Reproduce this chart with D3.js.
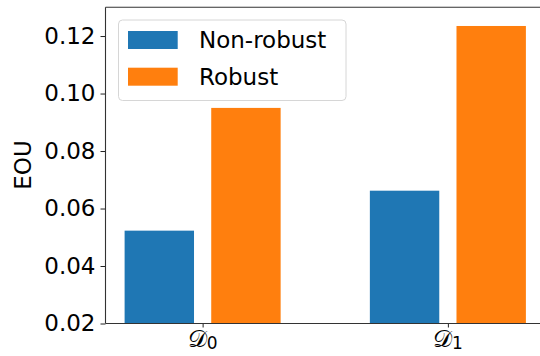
<!DOCTYPE html>
<html>
<head>
<meta charset="utf-8">
<script src="https://cdn.jsdelivr.net/npm/d3@7"></script>
<style>
  html, body { margin: 0; padding: 0; background: #fff; }
  svg { display: block; font-family: "DejaVu Sans", sans-serif; }
</style>
</head>
<body>
<svg id="chart" width="540" height="356"></svg>
<script>
// Datasets on the x axis
const categories = ["0", "1"];
// Series names and values (EOU)
const seriesNames = ["Non-robust", "Robust"];
const nonRobust = [0.0523, 0.0662];
const robust = [0.0950, 0.1235];
const seriesValues = [nonRobust, robust];
const seriesColors = ["#1f77b4", "#ff7f0e"];
// Y tick labels
const yTicks = [0.02, 0.04, 0.06, 0.08, 0.10, 0.12];

const svg = d3.select("#chart");
const plot = { left: 105.5, right: 545, top: 7.3, bottom: 323.5 };

const x = d3.scaleLinear().domain([-0.396, 1.396]).range([plot.left, plot.right]);
const y = d3.scaleLinear().domain([0.02, 0.13]).range([plot.bottom, plot.top]);

const barWidth = 0.283;
const barOffset = [-0.1766, 0.1766];

// Bars
seriesValues.forEach((vals, s) => {
  svg.append("g").selectAll("rect")
    .data(vals)
    .join("rect")
    .attr("x", (d, i) => x(i + barOffset[s] - barWidth / 2))
    .attr("width", x(barWidth) - x(0))
    .attr("y", d => y(d))
    .attr("height", d => y(0.02) - y(d))
    .attr("fill", seriesColors[s]);
});

// Y axis
const yAxis = svg.append("g")
  .attr("transform", `translate(${plot.left},0)`)
  .call(d3.axisLeft(y).tickValues(yTicks).tickFormat(d3.format(".2f")).tickSize(5).tickPadding(5));
yAxis.select(".domain").remove();
yAxis.selectAll(".tick line").attr("stroke", "#222").attr("stroke-width", 1);
yAxis.selectAll(".tick text")
  .attr("font-size", 23)
  .attr("font-family", "DejaVu Sans")
  .attr("fill", "#000");

// X axis
const xAxis = svg.append("g")
  .attr("transform", `translate(0,${plot.bottom})`)
  .call(d3.axisBottom(x).tickValues([0, 1]).tickFormat(() => "").tickSize(4));
xAxis.select(".domain").remove();
xAxis.selectAll(".tick line").attr("stroke", "#222").attr("stroke-width", 1);

// X tick labels: calligraphic D with subscript index
categories.forEach((c, i) => {
  const t = svg.append("text")
    .attr("x", x(i))
    .attr("y", 347)
    .attr("text-anchor", "middle")
    .attr("fill", "#000");
  t.append("tspan")
    .attr("font-family", "DejaVu Serif, serif")
    .attr("font-size", 24)
    .text("\u{1D49F}");
  t.append("tspan")
    .attr("font-family", "DejaVu Sans")
    .attr("font-size", 17)
    .attr("dy", 2)
    .text(c);
});

// Spines
const spine = { stroke: "#333", "stroke-width": 1.1 };
[[plot.left, plot.top, plot.left, plot.bottom],
 [plot.left, plot.bottom, plot.right, plot.bottom],
 [plot.left, plot.top, plot.right, plot.top]].forEach(([x1, y1, x2, y2]) => {
  svg.append("line").attr("x1", x1).attr("y1", y1).attr("x2", x2).attr("y2", y2)
    .attr("stroke", spine.stroke).attr("stroke-width", spine["stroke-width"]);
});

// Y axis label
svg.append("text")
  .attr("transform", "translate(31,165) rotate(-90)")
  .attr("text-anchor", "middle")
  .attr("font-size", 23)
  .attr("fill", "#000")
  .text("EOU");

// Legend
const legend = svg.append("g");
legend.append("rect")
  .attr("x", 118.5).attr("y", 20).attr("width", 227.5).attr("height", 80.5)
  .attr("rx", 4).attr("ry", 4)
  .attr("fill", "#fff").attr("fill-opacity", 0.8)
  .attr("stroke", "#d6d6d6").attr("stroke-width", 1);
seriesNames.forEach((name, s) => {
  const cy = 40 + s * 36.7;
  legend.append("rect")
    .attr("x", 128).attr("y", cy - 9).attr("width", 49.7).attr("height", 18)
    .attr("fill", seriesColors[s]);
  legend.append("text")
    .attr("x", 199).attr("y", cy)
    .attr("dy", "0.36em")
    .attr("font-size", 23)
    .attr("fill", "#000")
    .text(name);
});
</script>
</body>
</html>
